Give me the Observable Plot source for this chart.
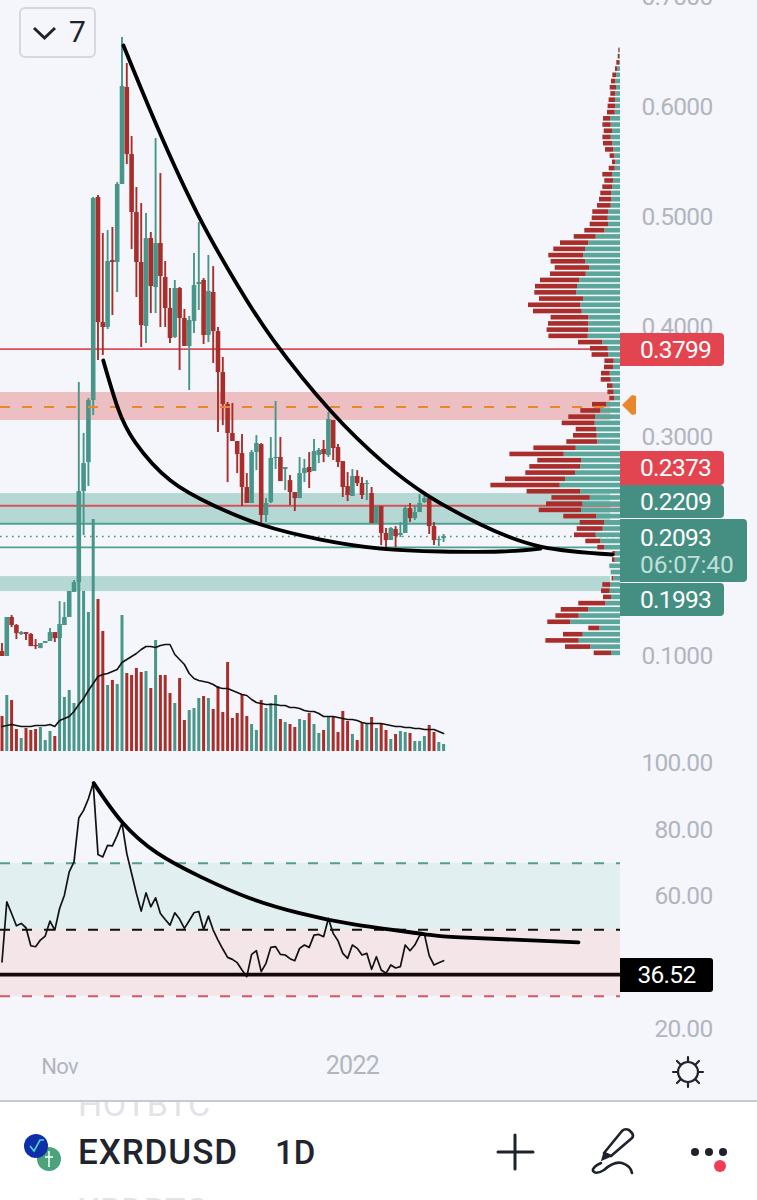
<!DOCTYPE html>
<html><head><meta charset="utf-8">
<script src="https://cdn.jsdelivr.net/npm/d3@7"></script>
<script src="https://cdn.jsdelivr.net/npm/@observablehq/plot@0.6"></script>
<style>
html,body{margin:0;padding:0;background:#fff}
#page{position:relative;width:757px;height:1200px;overflow:hidden;background:#fff;font-family:Roboto,sans-serif}
#chart{position:absolute;left:0;top:0;width:757px;height:1100px;background:#f4f6fb;overflow:hidden}
#chart > svg{position:absolute;left:0;top:0;background:transparent}
#chart svg text{letter-spacing:-.7px}
.chip{position:absolute;left:620px;width:84px;padding-left:20px;color:#fff;font-size:24.5px;letter-spacing:-.7px;text-align:left;border-radius:0 4px 4px 0}
.abs{position:absolute}
</style></head><body>
<div id="page"><div id="chart"></div></div>
<script>
// ---- daily candles, 20 Oct 2021 onward ----
const opens=[.1045,.1000,.1355,.1282,.1200,.1218,.1200,.1100,.1072,.1118,.1136,.1218,.1163,.1282,.1355,.1583,.1673,.2502,.2766,.3331,.5180,.4041,.3996,.4606,.4588,.5298,.6182,.5571,.5043,.4588,.4005,.4806,.4360,.4761,.4451,.4169,.3905,.4351,.4078,.3823,.4051,.4387,.4424,.3923,.4315,.3959,.3586,.3295,.3031,.2958,.2848,.2539,.2393,.2857,.2930,.2284,.2402,.2803,.2812,.2703,.2602,.2493,.2438,.2666,.2721,.2684,.2830,.2885,.2830,.3149,.2903,.2775,.2548,.2457,.2639,.2575,.2566,.2484,.2211,.2366,.2120,.2056,.2156,.2102,.2120,.2347,.2256,.2311,.2402,.2438,.2183,.2056,.2074];
const highs=[.1118,.1355,.1373,.1291,.1227,.1218,.1209,.1154,.1118,.1136,.1254,.1218,.1500,.1491,.1592,.1692,.3495,.3031,.3349,.5180,.5198,.4852,.4879,.4907,.5316,.6637,.6400,.5735,.5271,.5125,.5034,.4861,.5717,.5398,.4597,.4351,.4424,.4360,.4160,.4096,.4670,.4952,.4442,.4652,.4551,.3996,.3723,.3313,.3304,.2958,.3021,.2666,.2876,.3012,.2939,.2438,.2994,.3322,.2994,.2721,.2648,.2493,.2812,.2794,.2857,.2976,.2894,.2967,.3222,.3149,.2930,.2775,.2675,.2703,.2693,.2630,.2602,.2539,.2366,.2366,.2165,.2174,.2183,.2220,.2366,.2393,.2366,.2475,.2484,.2448,.2220,.2083,.2111];
const lows=[.1000,.1000,.1263,.1154,.1191,.1145,.1090,.1063,.1072,.1118,.1136,.1127,.1145,.1282,.1355,.1583,.1673,.2102,.2548,.3194,.3695,.3741,.3978,.4105,.4315,.5298,.5480,.4706,.4269,.3814,.3850,.4123,.4123,.3996,.3996,.3850,.3896,.3604,.3823,.3422,.3941,.4151,.3841,.3859,.3668,.3040,.3103,.2584,.2958,.2666,.2366,.2393,.2393,.2693,.2202,.2220,.2393,.2703,.2593,.2511,.2375,.2320,.2438,.2584,.2530,.2684,.2757,.2766,.2812,.2785,.2721,.2448,.2411,.2457,.2548,.2429,.2420,.2211,.2211,.2010,.1965,.2056,.1992,.2083,.2120,.2220,.2238,.2311,.2393,.2111,.2010,.2001,.2038];
const closes=[.1000,.1355,.1282,.1209,.1218,.1200,.1090,.1090,.1118,.1136,.1218,.1163,.1291,.1355,.1592,.1673,.2502,.2757,.3331,.5171,.4041,.3996,.4597,.4588,.5298,.6191,.5571,.5043,.4588,.4014,.4806,.4369,.4761,.4460,.4169,.3896,.4351,.4078,.3823,.4060,.4378,.4406,.3923,.4324,.3959,.3586,.3295,.3031,.2958,.2839,.2539,.2393,.2857,.2939,.2284,.2393,.2803,.2812,.2593,.2721,.2493,.2438,.2666,.2712,.2675,.2867,.2876,.2839,.3158,.2894,.2766,.2539,.2466,.2639,.2575,.2466,.2575,.2211,.2366,.2120,.2056,.2165,.2093,.2120,.2347,.2256,.2311,.2393,.2438,.2183,.2056,.2065,.2093];
const volumes=[35,56,51,22,13,23,21,22,24,11,20,15,125,54,61,48,172,160,139,232,152,120,66,71,67,136,78,76,83,79,80,63,111,76,76,58,48,73,31,41,43,53,55,53,42,65,39,89,33,38,57,35,27,21,51,43,48,56,32,29,27,24,32,31,38,27,18,21,34,34,19,40,30,17,11,28,28,34,23,27,21,12,17,20,19,18,10,10,15,26,19,9,7];
const volumeAverage=[25,26,27,26,25,25,25,26,26,26,27,25,31,33,35,40,47,53,61,68,75,77,78,80,82,89,92,95,98,102,105,105,104,106,107,107,97,92,87,78,73,71,70,69,67,64,63,63,61,59,57,56,52,49,48,47,47,47,46,46,44,44,43,41,40,40,38,35,35,35,34,33,32,32,31,29,28,28,28,28,27,26,25,25,24,24,23,23,22,22,22,20,18];
const rsiValues=[40.3,58.4,54.9,51.2,51.9,50.6,45.2,44.9,46.9,48.1,52.6,49.9,56.4,60.4,67.4,70.4,83.6,85.9,89.4,94.1,72.6,71.9,75.4,75.2,78.4,82.1,72.9,66.9,60.9,55.6,61.1,56.9,59.6,54.9,53.1,51.4,55.1,53.2,50.4,52.7,55.1,55.5,50.1,54.1,49.9,46.9,44.2,41.7,41.1,40.1,37.9,35.9,42.6,43.7,37.4,39.9,44.7,44.9,42.6,42.4,41.3,40.7,44.4,45.4,44.7,48.4,48.6,47.9,53.4,48.9,46.7,42.9,41.4,45.4,44.4,42.4,42.9,38.1,41.9,37.9,36.9,39.4,38.5,38.9,45.4,43.7,45.4,48.2,48.7,42.2,39.4,40.1,40.7];
// ---- visible-range volume profile, top bin to bottom bin ----
const profileTopPrice=0.6519, profileBinSize=0.00566;
const profileUp=[.7,1,1,2.7,4,4.7,4,4.7,4.7,4.7,5.3,10,9.3,8,9.3,7.7,6.7,5.7,4.7,5.3,8,6.7,8,8.7,8.7,9.3,12,12.3,12,15.7,24.3,31.7,35,36.7,34.7,31,34.3,40.7,43,44,37,39.7,38.3,31.7,31.7,31.7,32.3,17.7,12.3,11.7,6.3,7,10.3,9.3,7.3,6.3,5.7,13.7,19.7,25,25.3,24,23.3,22.7,44.3,56.3,39,39.7,45,55,60.3,39.7,30.3,37.7,39,24,16,17.3,24.3,19.7,16,4.7,5.3,10.7,9.3,6.7,9.7,10.3,9,14.7,32,41.3,49.7,20.7,37.3,41.3,29.7,9];
const profileDown=[1,1.3,2.7,2.3,3.7,4.3,6.3,5,6.7,7.7,7.7,7,8.3,8.3,8.3,9.3,8.3,4.7,3.3,6,9.7,9,9.7,11,12.3,13.7,15.7,16,18.3,20,22,28.3,31.7,35,34.7,34.3,35.7,39.3,42,41.7,44,52.3,48.7,37.7,40.3,41.7,39.3,24.3,17.7,16.7,9.3,9,8.7,10,5.7,6.3,5,14.3,20,26.7,33,20.3,23.7,31,42.3,54.3,43.7,51,49.7,60,69.3,53.7,38.3,36.3,42.3,32.7,24.3,26,21.7,15,6.7,3,2.7,0,0,1.7,8,8.7,8,27,27.3,23.3,23,11,19.7,33.3,25.3,17.3];
// ---- hand-drawn trend curves: bar index / value ----
const upperCurveBar=[25.3,32.4,40.7,49.1,56.6,68.4,79.5,88.7,99.7,112.2,127.2];
const upperCurvePrice=[.6564,.5817,.5034,.4378,.3877,.3240,.2766,.2466,.2202,.2001,.1929];
const lowerCurveBar=[21.1,24.1,27.8,35.1,44.1,53.9,66.4,78.9,91.4,103.9,112.2];
const lowerCurvePrice=[.3695,.3267,.2948,.2602,.2375,.2202,.2065,.1983,.1956,.1956,.1983];
const rsiCurveBar=[19.1,25,32.3,41.4,51.8,62.2,73.3,87.9,95.5,120.1];
const rsiCurveValue=[94.1,82.4,73.1,65.9,59.4,54.9,51.6,48.7,47.7,46.2];
// ---- levels ----
const priceTicks=[.7,.6,.5,.4,.3,.1];
const rsiTicks=[100,80,60,20];
const timeTicks=[{bar:12,label:"Nov",weight:400,size:22},{bar:73,label:"2022",weight:600,size:25}];
const redLevels=[.3799,.2373];
const greenLevels=[.2209,.1993];
const lastPrice=.2093, orangeLevel=.3272;
const redBand=[.3404,.3149];
const greenBands=[[.2484,.2206],[.1728,.1591]];
const rsiBands=[[70,50,"#e2eff0"],[50,30,"#f4e5e8"]];
const rsiLevels=[[70,"#4f9f92"],[50,"#111"],[30,"#d9565f"]];
const rsiSupport=36.52;

const UP="#489689", DOWN="#a92e2b", PUP="#5ba69a";
const DAY=864e5, T0=Date.UTC(2021,9,20);
const barDate=i=>new Date(T0+i*DAY);
const xScale={type:"utc",domain:[barDate(-0.3125),barDate(157.396)],range:[0,757],axis:null};
const priceY={domain:[.1,.6974],range:[656,0],axis:null};
const volY={domain:[0,100],range:[751,651],axis:null};
const rsiY={domain:[20,100],range:[1029,763],axis:null};
const paneEnd=barDate(128.85), bandEnd=barDate(126.8), paneStart=barDate(-0.3125);
const base={width:757,height:1100,margin:0,style:{background:"transparent"}};
const FONT="Roboto, sans-serif";
const candles=opens.map((o,i)=>({t:barDate(i),o,h:highs[i],l:lows[i],c:closes[i]}));
const color=d=>d.c>=d.o?UP:DOWN;
const curve=(bars,vals)=>bars.map((b,i)=>({t:barDate(b),v:vals[i]}));
const series=a=>a.map((v,i)=>({t:barDate(i),v}));

// bands and levels
const bandsPlot=Plot.plot({...base,x:xScale,y:priceY,marks:[
  Plot.rect([redBand],{x1:()=>paneStart,x2:()=>bandEnd,y1:d=>d[0],y2:d=>d[1],fill:"#ecbfc3"}),
  Plot.rect(greenBands,{x1:()=>paneStart,x2:()=>bandEnd,y1:d=>d[0],y2:d=>d[1],fill:"#b6d8d5"}),
  Plot.ruleY(redLevels,{x1:()=>paneStart,x2:()=>paneEnd,stroke:"#d9505a",strokeWidth:1.8}),
  Plot.ruleY(greenLevels,{x1:()=>paneStart,x2:()=>paneEnd,stroke:"#4f9f92",strokeWidth:1.8}),
  Plot.ruleY([lastPrice],{x1:()=>paneStart,x2:()=>paneEnd,stroke:"#3f8f82",strokeWidth:1.6,strokeDasharray:"1.6,4.4"}),
  Plot.text(priceTicks,{y:d=>d,text:d=>d.toFixed(4),frameAnchor:"right",dx:-45,textAnchor:"end",fill:"#b2b5be",fontSize:24.5,fontFamily:FONT})
]});

// volume profile
const profileRows=profileUp.map((u,i)=>({p:profileTopPrice-i*profileBinSize,u,d:profileDown[i]}));
const profilePlot=Plot.plot({...base,x:{domain:[0,100],range:[620,520],axis:null},y:priceY,marks:[
  Plot.rect(profileRows,{x1:0,x2:"u",y1:d=>d.p-.0021,y2:d=>d.p+.0021,fill:PUP}),
  Plot.rect(profileRows,{x1:"u",x2:d=>d.u+d.d,y1:d=>d.p-.0021,y2:d=>d.p+.0021,fill:DOWN})
]});

// candles and trend curves
const candlePlot=Plot.plot({...base,x:xScale,y:priceY,marks:[
  Plot.ruleX(candles,{x:"t",y1:"l",y2:"h",stroke:color,strokeWidth:1.9}),
  Plot.ruleX(candles,{x:"t",y1:"o",y2:"c",stroke:color,strokeWidth:4.6}),
  Plot.ruleY([orangeLevel],{x1:()=>paneStart,x2:()=>bandEnd,stroke:"#e8872c",strokeWidth:2,strokeDasharray:"10,12"}),
  Plot.line(curve(upperCurveBar,upperCurvePrice),{x:"t",y:"v",stroke:"#000",strokeWidth:3.8,curve:"natural"}),
  Plot.line(curve(lowerCurveBar,lowerCurvePrice),{x:"t",y:"v",stroke:"#000",strokeWidth:3.8,curve:"natural"})
]});

// volume
const volumePlot=Plot.plot({...base,x:xScale,y:volY,marks:[
  Plot.ruleX(candles.map((d,i)=>({...d,vol:volumes[i]})),{x:"t",y1:0,y2:"vol",stroke:color,strokeWidth:3}),
  Plot.line(series(volumeAverage),{x:"t",y:"v",stroke:"#111",strokeWidth:1.6})
]});

// RSI pane
const rsiPlot=Plot.plot({...base,x:xScale,y:rsiY,marks:[
  Plot.rect(rsiBands,{x1:()=>paneStart,x2:()=>paneEnd,y1:d=>d[0],y2:d=>d[1],fill:d=>d[2]}),
  ...rsiLevels.map(([v,c])=>Plot.ruleY([v],{x1:()=>paneStart,x2:()=>paneEnd,stroke:c,strokeWidth:1.8,strokeDasharray:"10,12"})),
  Plot.line(series(rsiValues),{x:"t",y:"v",stroke:"#111",strokeWidth:1.7}),
  Plot.ruleY([rsiSupport],{x1:()=>paneStart,x2:()=>paneEnd,stroke:"#150808",strokeWidth:3.8}),
  Plot.line(curve(rsiCurveBar,rsiCurveValue),{x:"t",y:"v",stroke:"#000",strokeWidth:3.8,curve:"natural"}),
  Plot.text(rsiTicks,{y:d=>d,text:d=>d.toFixed(2),frameAnchor:"right",dx:-45,textAnchor:"end",fill:"#b2b5be",fontSize:24.5,fontFamily:FONT}),
  Plot.text(timeTicks,{x:d=>barDate(d.bar),text:"label",frameAnchor:"bottom",dy:-27,fill:"#b2b5be",fontSize:d=>d.size,fontWeight:d=>d.weight,fontFamily:FONT})
]});

const chart=document.getElementById("chart");
[bandsPlot,profilePlot,candlePlot,volumePlot,rsiPlot].forEach(p=>chart.append(p));

// price tags and chrome
const chips=[
 ["0.3799",333,33,"#e2454f"],["0.2373",451,34,"#e2454f"],["0.2209",485,33,"#448f82"],["0.1993",583,33,"#448f82"]];
chips.forEach(([t,top,h,bg])=>{const e=document.createElement("div");e.className="chip";e.textContent=t;
 e.style.cssText=`top:${top}px;height:${h}px;line-height:${h}px;background:${bg}`;chart.append(e);});
chart.insertAdjacentHTML("beforeend",`
<div class="abs" style="left:620px;top:519px;width:127px;height:63px;background:#448f82;border-radius:0 4px 4px 0;color:#fff;font-size:24.5px;letter-spacing:-.7px">
 <div class="abs" style="left:20px;top:2px;line-height:33px">0.2093</div>
 <div class="abs" style="left:20px;top:30px;line-height:31px;color:#bfe0da;letter-spacing:-.1px">06:07:40</div></div>
<div class="abs" style="left:620px;top:958px;width:93px;height:34px;background:#000;color:#fff;font-size:24.5px;letter-spacing:-.7px;line-height:34px;text-align:center;border-radius:0 3px 3px 0">36.52</div>
<div class="abs" style="left:19px;top:7px;width:73px;height:47px;border:2px solid #d5d8df;border-radius:6px">
 <svg class="abs" style="left:11px;top:17px" width="26" height="16"><path d="M2 2 L12.5 12 L23 2" fill="none" stroke="#1e222d" stroke-width="3"/></svg>
 <div class="abs" style="left:48px;top:5px;font-size:30px;line-height:36px;color:#1e222d">7</div></div>
<svg class="abs" style="left:0;top:0" width="757" height="1100">
 <path d="M622 405 L632 395 L636 396 L636 414 L632 415 Z" fill="#e8872c"/>
 <g transform="translate(688,1072)" stroke="#1e222d" stroke-width="2.2" fill="none" stroke-linecap="round">
  <circle r="10"/><path d="M0 -15V-11M0 11V15M-15 0H-11M11 0H15M-11 -11L-8 -8M8 8L11 11M-11 11L-8 8M8 -8L11 -11"/></g>
</svg>`);
document.getElementById("page").insertAdjacentHTML("beforeend",`
<div class="abs" style="left:0;top:1100px;width:757px;height:1.5px;background:#c8cad0;z-index:2"></div>
<div class="abs" style="left:0;top:1101px;width:757px;height:99px;overflow:hidden;background:#fff">
 <div class="abs" style="left:78px;top:-16px;font-size:34px;line-height:38px;letter-spacing:.4px;color:#e2e3e7">HOTBTC</div>
 <div class="abs" style="left:78px;top:90px;font-size:34px;line-height:38px;letter-spacing:.4px;color:#e2e3e7">XRDBTC</div>
 <div class="abs" style="left:78px;top:32px;width:160px;height:40px;overflow:hidden;font-size:35px;font-weight:500;line-height:40px;color:#20242f;white-space:nowrap;letter-spacing:.9px">EXRDUSD</div>
 <div class="abs" style="left:275px;top:32px;font-size:33px;font-weight:500;line-height:40px;color:#20242f">1D</div>
 <svg class="abs" style="left:0;top:0" width="757" height="99">
  <circle cx="49" cy="58" r="12" fill="#4aa37a"/>
  <path d="M49 50V66M45 56H53" stroke="#fff" stroke-width="1.5"/>
  <circle cx="36" cy="45" r="12" fill="#0f2fa8"/>
  <path d="M30 45L34 50L40 39H44" fill="none" stroke="#4fd6c8" stroke-width="1.6"/>
  <path d="M515 34V68M498 51H533" stroke="#1e222d" stroke-width="3" stroke-linecap="round"/>
  <path d="M604 52L622 30Q625 27 629 29L632 32Q634 35 632 37L611 55Z" fill="none" stroke="#1e222d" stroke-width="2.6" stroke-linejoin="round"/>
  <path d="M604 52L602 59L611 55Z" fill="#1e222d" stroke="#1e222d" stroke-width="1.5"/>
  <path d="M601 62Q592 66 593 70Q596 74 604 69Q614 60 622 62Q631 65 632 72" fill="none" stroke="#1e222d" stroke-width="2.6" stroke-linecap="round"/>
  <circle cx="695" cy="51" r="4" fill="#1e222d"/><circle cx="709" cy="51" r="4" fill="#1e222d"/><circle cx="723" cy="51" r="4" fill="#1e222d"/>
  <circle cx="720" cy="65" r="6" fill="#ee3c52"/>
 </svg>
</div>`);
</script></body></html>
